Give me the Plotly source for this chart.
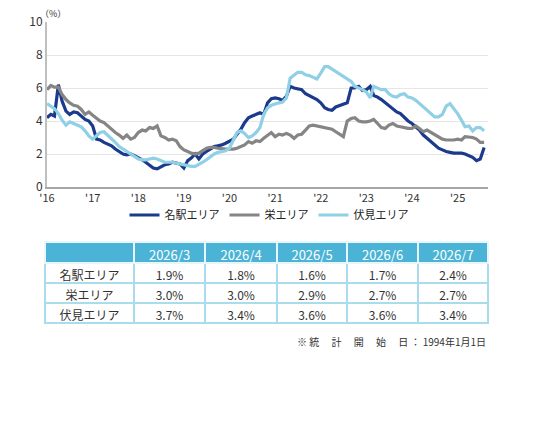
import pandas as pd

import plotly.graph_objects as go


# -----------------------------------
# Data (monthly, %)
# -----------------------------------

start_month = "2016-01-01"

meieki = [
    4.2, 4.4, 4.3, 6.2, 5.2, 4.6, 4.4, 4.55, 4.5, 4.3, 4.1, 4.0,
    3.7, 2.9, 2.85, 2.7, 2.6, 2.5, 2.3, 2.15, 2.0, 1.95, 2.0, 1.9,
    1.8, 1.65, 1.5, 1.35, 1.15, 1.1, 1.2, 1.35, 1.4, 1.5, 1.45, 1.4,
    1.15, 1.6, 1.75, 2.0, 1.7, 2.0, 2.15, 2.3, 2.45, 2.5, 2.55, 2.65,
    2.75, 2.9, 3.2, 3.5, 3.9, 4.2, 4.3, 4.4, 4.5, 4.4, 5.1, 5.35,
    5.4, 5.35, 5.25, 5.5, 6.1, 6.0, 5.95, 5.9, 5.65, 5.55, 5.4, 5.3,
    5.1, 4.8, 4.7, 4.65, 4.85, 4.95, 5.0, 5.1, 6.0, 6.0, 6.1, 5.85,
    5.9, 6.1, 5.55, 5.45, 5.3, 5.1, 4.95, 4.7, 4.55, 4.45, 4.2, 4.0,
    3.85, 3.65, 3.45, 3.15, 2.95, 2.75, 2.55, 2.35, 2.25, 2.15, 2.1, 2.05,
    2.05, 2.05, 2.0, 1.9, 1.8, 1.6, 1.7, 2.4,
]

sakae = [
    5.9, 6.15, 6.05, 6.05, 5.6, 5.3, 5.1, 4.95, 4.9, 4.7, 4.4, 4.55,
    4.35, 4.15, 4.0, 3.9, 3.7, 3.45, 3.3, 3.15, 2.95, 3.15, 2.9, 3.0,
    3.3, 3.45, 3.4, 3.6, 3.55, 3.7, 3.1, 3.0, 2.85, 2.9, 2.8, 2.45,
    2.25, 2.15, 2.05, 2.0, 2.05, 2.2, 2.35, 2.4, 2.4, 2.35, 2.3, 2.3,
    2.3, 2.3, 2.35, 2.45, 2.55, 2.75, 2.65, 2.8, 2.75, 2.95, 3.1, 3.3,
    3.05, 3.2, 3.15, 3.25, 3.15, 2.95, 3.15, 3.2, 3.45, 3.7, 3.75, 3.7,
    3.6, 3.55, 3.55, 3.5, 3.35, 3.2, 3.05, 4.0, 4.15, 4.2, 4.0, 3.95,
    3.95, 4.0, 4.1, 3.85, 3.6, 3.55, 3.75, 3.85, 3.7, 3.65, 3.6, 3.55,
    3.55, 3.7, 3.55, 3.35, 3.45, 3.3, 3.15, 3.0, 2.9, 2.85, 2.85, 2.85,
    2.9, 2.85, 3.05, 3.0, 3.0, 2.9, 2.7, 2.7,
]

fushimi = [
    5.05, 4.9, 4.75, 4.45, 4.05, 3.75, 3.95, 3.85, 3.75, 3.65, 3.4, 3.1,
    2.9, 3.1, 3.3, 3.35, 3.15, 2.95, 2.7, 2.45, 2.3, 2.15, 1.95, 1.85,
    1.7, 1.65, 1.65, 1.7, 1.75, 1.7, 1.6, 1.5, 1.5, 1.5, 1.45, 1.4,
    1.35, 1.3, 1.25, 1.25, 1.35, 1.5, 1.65, 1.85, 2.0, 2.1, 2.15, 2.2,
    2.35, 2.8, 3.3, 3.4, 3.25, 3.0, 3.1, 3.3, 3.6, 4.4, 4.8, 4.95,
    5.05, 5.1, 5.15, 5.4, 6.6, 6.8, 6.95, 6.95, 6.8, 6.75, 6.65, 6.55,
    6.9, 7.3, 7.3, 7.15, 7.0, 6.9, 6.75, 6.6, 6.4, 6.1, 6.0, 5.9,
    5.75, 5.4, 6.1, 6.0, 5.9, 5.9, 5.65, 5.5, 5.45, 5.6, 5.65, 5.45,
    5.4, 5.25, 5.05, 4.9, 4.65, 4.45, 4.25, 4.25, 4.4, 4.9, 5.05, 4.75,
    4.45, 4.05, 3.65, 3.7, 3.4, 3.6, 3.6, 3.4,
]

series_names = ["名駅エリア", "栄エリア", "伏見エリア"]

table_months = ["2026/3", "2026/4", "2026/5", "2026/6", "2026/7"]

table_meieki = [1.9, 1.8, 1.6, 1.7, 2.4]
table_sakae = [3.0, 3.0, 2.9, 2.7, 2.7]
table_fushimi = [3.7, 3.4, 3.6, 3.6, 3.4]

note_text = "※ 統　 計　 開　 始　 日 ： 1994年1月1日"

# -----------------------------------
# Layout helpers (window pixels -> paper)
# the page body has an 8px margin
# -----------------------------------

OFF = 8
W, H = 520, 420


def px_x(v):
    return (v - OFF) / W


def px_y(v):
    return 1 - (v - OFF) / H


FONT = "Noto Sans CJK JP, Noto Sans, sans-serif"

colors = ["#1b3a8c", "#858585", "#8fd0e6"]

dates = pd.date_range(start_month, periods=len(meieki), freq="MS")

fig = go.Figure()

for name, values, color in zip(series_names, [meieki, sakae, fushimi], colors):

    fig.add_trace(

        go.Scatter(

            x=dates,

            y=values,

            name=name,

            mode="lines",

            line=dict(color=color, width=3.2),

            xaxis="x",

            yaxis="y"

        )

    )

# -----------------------------------
# Table
# -----------------------------------

cell_cols = [series_names] + [
    [f"{a:.1f}%", f"{b:.1f}%", f"{c:.1f}%"]
    for a, b, c in zip(table_meieki, table_sakae, table_fushimi)
]

fig.add_trace(

    go.Table(

        domain=dict(x=[px_x(45), px_x(488)], y=[px_y(325), px_y(242)]),

        columnwidth=[89, 71, 72, 70, 71, 70],

        header=dict(

            values=[""] + table_months,

            fill_color="#4bb4d6",

            line_color="#e8f6fb",

            line_width=1.5,

            align="center",

            height=21,

            font=dict(family=FONT, size=13, color="#ffffff")

        ),

        cells=dict(

            values=cell_cols,

            fill_color="#ffffff",

            line_color="#a9dcec",

            line_width=1.5,

            align="center",

            height=20,

            font=dict(family=FONT, size=12, color="#333333")

        )

    )

)

# -----------------------------------
# Layout
# -----------------------------------

fig.update_layout(

    width=W,

    height=H,

    margin=dict(l=0, r=0, t=0, b=0),

    paper_bgcolor="#ffffff",

    plot_bgcolor="#ffffff",

    font=dict(family=FONT, size=12, color="#333333"),

    showlegend=True,

    legend=dict(

        orientation="h",

        x=px_x(269),

        xanchor="center",

        y=px_y(215),

        yanchor="middle",

        font=dict(family=FONT, size=11, color="#222222"),

        itemwidth=30,

        tracegroupgap=0,

        bgcolor="rgba(0,0,0,0)"

    ),

    xaxis=dict(

        domain=[px_x(47), px_x(488)],

        range=["2016-01-01", "2025-09-01"],

        tickformat="'%y",

        dtick="M12",

        tick0="2016-01-01",

        showgrid=False,

        showline=True,

        linecolor="#a6a6a6",

        linewidth=2,

        ticks="",

        tickfont=dict(size=11, color="#333333"),

        automargin=False,

        fixedrange=True

    ),

    yaxis=dict(

        domain=[px_y(187), px_y(22)],

        range=[0, 10],

        dtick=2,

        showgrid=True,

        gridcolor="#e6e6e6",

        gridwidth=1,

        showline=True,

        linecolor="#bfbfbf",

        linewidth=2,

        zeroline=False,

        ticks="",

        tickfont=dict(size=12, color="#333333"),

        automargin=False,

        fixedrange=True

    ),

    annotations=[

        dict(

            text="（%）",

            x=px_x(53),

            y=px_y(14),

            xref="paper",

            yref="paper",

            xanchor="center",

            yanchor="middle",

            showarrow=False,

            font=dict(size=9, color="#333333")

        ),

        dict(

            text=note_text,

            x=px_x(488),

            y=px_y(341),

            xref="paper",

            yref="paper",

            xanchor="right",

            yanchor="middle",

            showarrow=False,

            font=dict(size=10, color="#333333")

        )

    ]

)

fig.write_html("out.html")
